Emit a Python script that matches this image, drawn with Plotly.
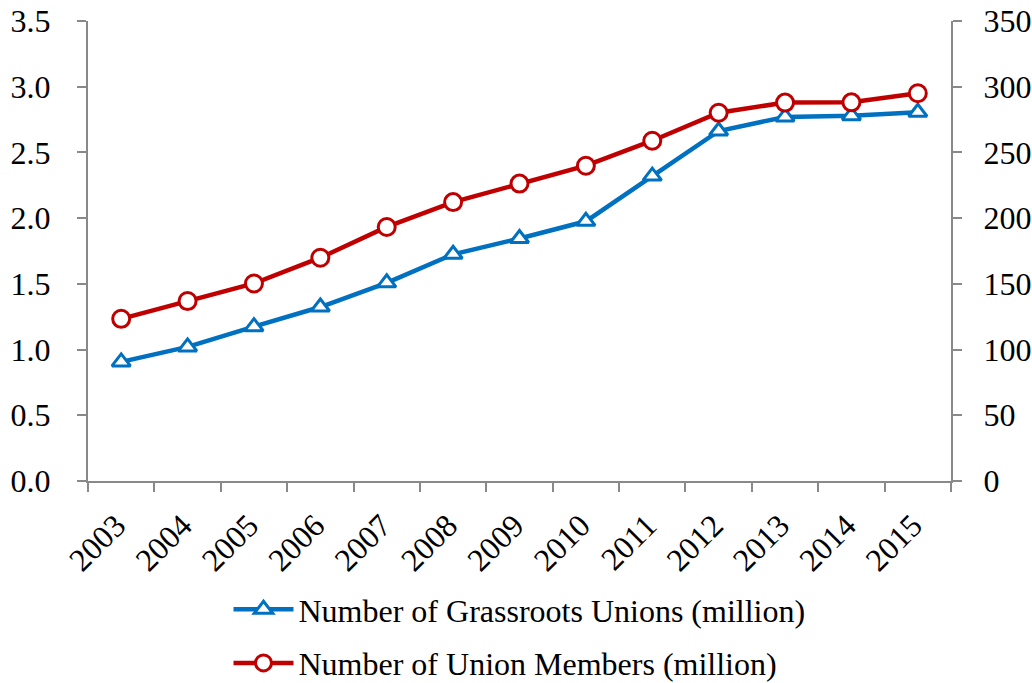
import plotly.graph_objects as go

# Annual figures, 2003-2015
years = ["2003", "2004", "2005", "2006", "2007", "2008", "2009",
         "2010", "2011", "2012", "2013", "2014", "2015"]
grassroots_unions = [0.906, 1.020, 1.174, 1.324, 1.508, 1.725, 1.845,
                     1.976, 2.320, 2.663, 2.770, 2.780, 2.806]
union_members = [123.4, 136.9, 150.3, 169.9, 193.3, 212.2, 226.3,
                 239.9, 258.9, 280.2, 287.9, 288.1, 295.0]

left_ticks = [0, 0.5, 1.0, 1.5, 2.0, 2.5, 3.0, 3.5]
right_ticks = [0, 50, 100, 150, 200, 250, 300, 350]

BLUE = "#0070C0"
RED = "#C00000"
AXIS = "#898989"
FONT = "Liberation Serif"

fig = go.Figure()
fig.add_trace(go.Scatter(
    x=years, y=grassroots_unions, name="Number of Grassroots Unions (million)",
    mode="lines+markers", legendgroup="unions",
    line=dict(color=BLUE, width=4.5),
    marker=dict(symbol="triangle-up", size=16, color="white",
                line=dict(color=BLUE, width=3)),
    yaxis="y",
))
fig.add_trace(go.Scatter(
    x=years, y=union_members, name="Number of Union Members (million)",
    mode="lines+markers", legendgroup="members",
    line=dict(color=RED, width=4.5),
    marker=dict(symbol="circle", size=17, color="white",
                line=dict(color=RED, width=3)),
    yaxis="y2",
))

fig.update_layout(
    width=1032, height=683,
    margin=dict(l=88, r=81, t=21, b=202),
    paper_bgcolor="white", plot_bgcolor="white",
    font=dict(family=FONT, size=32, color="black"),
    showlegend=True,
    legend=dict(x=0.5, xanchor="center", xref="paper",
                y=(683 - 582) / 683, yanchor="top", yref="container",
                font=dict(family=FONT, size=32, color="black"),
                traceorder="grouped", tracegroupgap=9,
                itemwidth=60, bgcolor="rgba(0,0,0,0)"),
    xaxis=dict(
        type="category", range=[-0.5, 12.5], automargin=False,
        showline=True, linecolor=AXIS, linewidth=2,
        ticks="outside", tickson="boundaries", ticklen=9,
        tickcolor=AXIS, tickwidth=2, tickangle=-45,
        showgrid=False, zeroline=False,
        ticklabelstandoff=11, ticklabelshift=-5,
        tickfont=dict(family=FONT, size=32),
    ),
    yaxis=dict(
        range=[0, 3.5], tickvals=left_ticks, tickformat=".1f", automargin=False,
        showline=True, linecolor=AXIS, linewidth=2,
        ticks="outside", ticklen=9, tickcolor=AXIS, tickwidth=2,
        showgrid=False, zeroline=False, ticklabelstandoff=20,
        tickfont=dict(family=FONT, size=32),
    ),
    yaxis2=dict(
        range=[0, 350], tickvals=right_ticks, overlaying="y", side="right",
        automargin=False,
        showline=True, linecolor=AXIS, linewidth=2,
        ticks="outside", ticklen=9, tickcolor=AXIS, tickwidth=2,
        showgrid=False, zeroline=False, ticklabelstandoff=15,
        tickfont=dict(family=FONT, size=32),
    ),
)

fig.write_html("out.html")
